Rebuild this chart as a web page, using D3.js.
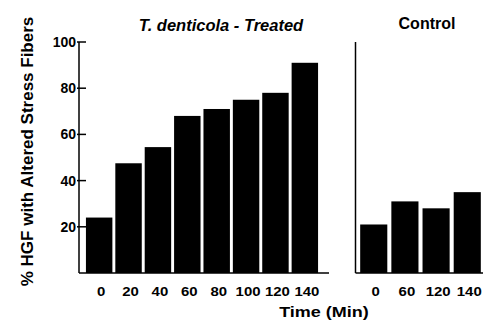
<!DOCTYPE html>
<html>
<head>
<meta charset="utf-8">
<script src="https://cdn.jsdelivr.net/npm/d3@7"></script>
<style>
  body { margin: 0; background: #fff; }
  text { font-family: "Liberation Sans", Arial, sans-serif; font-weight: bold; fill: #000; }
</style>
</head>
<body>
<script>
// data
var treatedTimes = ["0", "20", "40", "60", "80", "100", "120", "140"];
var treatedValues = [24, 47.5, 54.5, 68, 71, 75, 78, 91];
var controlTimes = ["0", "60", "120", "140"];
var controlValues = [21, 31, 28, 35];
var yTicks = [20, 40, 60, 80, 100];

var width = 484, height = 321;
var svg = d3.select("body").append("svg")
    .attr("width", width)
    .attr("height", height);

var y = d3.scaleLinear().domain([0, 100]).range([273, 42]);

// left panel (treated)
var xT = d3.scaleBand().domain(treatedTimes).range([83, 321])
    .paddingInner(0.1).paddingOuter(0.1);
// right panel (control)
var xC = d3.scaleBand().domain(controlTimes).range([358, 483])
    .paddingInner(0.13).paddingOuter(0.07);

// y axis with inward ticks
var yAxis = svg.append("g").attr("transform", "translate(79,0)");
yAxis.append("line")
    .attr("y1", y(100)).attr("y2", y(0))
    .attr("stroke", "#000").attr("stroke-width", 1.5);
yAxis.selectAll("line.tick").data(yTicks).enter().append("line")
    .attr("class", "tick")
    .attr("x1", -2).attr("x2", 7)
    .attr("y1", d => y(d)).attr("y2", d => y(d))
    .attr("stroke", "#000").attr("stroke-width", 1.5);
yAxis.selectAll("text").data(yTicks).enter().append("text")
    .attr("x", -3).attr("y", d => y(d))
    .attr("dy", "0.36em")
    .attr("text-anchor", "end")
    .style("font-size", "14px")
    .text(d => d);

// baseline of treated panel
svg.append("line")
    .attr("x1", 79).attr("x2", 329)
    .attr("y1", y(0)).attr("y2", y(0))
    .attr("stroke", "#000").attr("stroke-width", 1.5);

// control panel vertical line and baseline
svg.append("line")
    .attr("x1", 355.5).attr("x2", 355.5)
    .attr("y1", y(100)).attr("y2", y(0))
    .attr("stroke", "#000").attr("stroke-width", 1.5);
svg.append("line")
    .attr("x1", 355.5).attr("x2", 483)
    .attr("y1", y(0)).attr("y2", y(0))
    .attr("stroke", "#000").attr("stroke-width", 1.5);

// bars
svg.selectAll("rect.treated").data(treatedValues).enter().append("rect")
    .attr("class", "treated")
    .attr("x", (d, i) => xT(treatedTimes[i]))
    .attr("width", xT.bandwidth())
    .attr("y", d => y(d))
    .attr("height", d => y(0) - y(d))
    .attr("fill", "#000");

svg.selectAll("rect.control").data(controlValues).enter().append("rect")
    .attr("class", "control")
    .attr("x", (d, i) => xC(controlTimes[i]))
    .attr("width", xC.bandwidth())
    .attr("y", d => y(d))
    .attr("height", d => y(0) - y(d))
    .attr("fill", "#000");

// x tick labels (the scan is a bit stretched sideways)
function tickLabel(sel, x) {
    sel.attr("transform", d => "translate(" + (x(d) + x.bandwidth() / 2 + 2) + ",296) scale(1.15,1)")
        .attr("text-anchor", "middle")
        .style("font-size", "13px")
        .text(d => d);
}
svg.selectAll("text.xt").data(treatedTimes).enter().append("text")
    .attr("class", "xt").call(tickLabel, xT);
svg.selectAll("text.xc").data(controlTimes).enter().append("text")
    .attr("class", "xc").call(tickLabel, xC);

// titles
svg.append("text")
    .attr("x", 221).attr("y", 31)
    .attr("text-anchor", "middle")
    .style("font-size", "16.5px")
    .style("font-style", "italic")
    .text("T. denticola - Treated");
svg.append("text")
    .attr("x", 427).attr("y", 29)
    .attr("text-anchor", "middle")
    .style("font-size", "16px")
    .text("Control");

// axis titles
svg.append("text")
    .attr("transform", "translate(324,317) scale(1.2,1)")
    .attr("text-anchor", "middle")
    .style("font-size", "15px")
    .text("Time (Min)");
svg.append("text")
    .attr("transform", "translate(33,151.5) rotate(-90)")
    .attr("text-anchor", "middle")
    .style("font-size", "17px")
    .text("% HGF with Altered Stress Fibers");
</script>
</body>
</html>
